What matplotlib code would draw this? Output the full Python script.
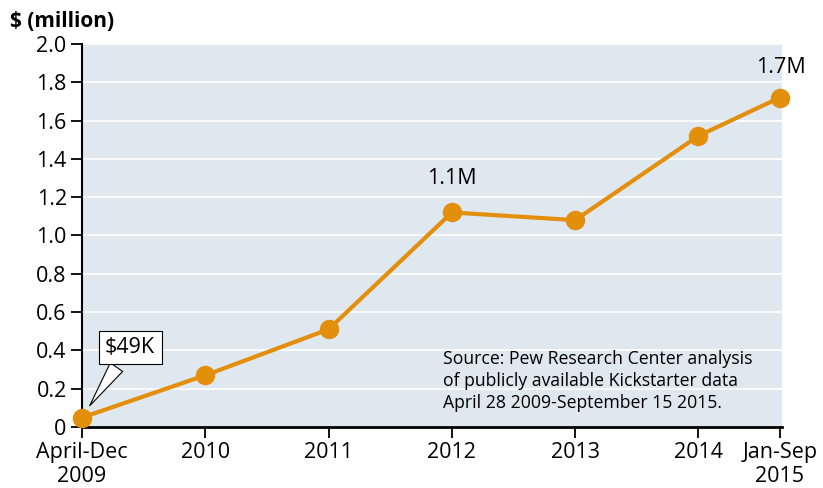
import matplotlib.pyplot as plt
from matplotlib.ticker import FixedLocator

plt.rcParams['font.family'] = ['Open Sans', 'DejaVu Sans']

# Data
periods = ['April-Dec\n2009', '2010', '2011', '2012', '2013', '2014', 'Jan-Sep\n2015']
x_pos = [0, 1, 2, 3, 4, 5, 5.66]
amount = [0.049, 0.27, 0.51, 1.12, 1.08, 1.52, 1.72]
y_ticks = [0, 0.2, 0.4, 0.6, 0.8, 1.0, 1.2, 1.4, 1.6, 1.8, 2.0]
y_ticklabels = ['0', '0.2', '0.4', '0.6', '0.8', '1.0', '1.2', '1.4', '1.6', '1.8', '2.0']

orange = '#e38f0c'

fig = plt.figure(figsize=(8.23, 4.88), dpi=100)
ax = fig.add_axes([0.0996, 0.125, 0.851, 0.785])
ax.set_facecolor('#dfe7ef')

ax.plot(x_pos, amount, color=orange, lw=3, marker='o', ms=13, zorder=3, clip_on=False)

ax.set_xlim(0, 5.68)
ax.set_ylim(0, 2.0)
ax.yaxis.set_major_locator(FixedLocator(y_ticks))
ax.set_yticklabels(y_ticklabels)
ax.set_xticks(x_pos)
ax.set_xticklabels(periods, linespacing=1.2)
ax.grid(axis='y', color='white', lw=1.2)
ax.set_axisbelow(True)

for side in ['top', 'right']:
    ax.spines[side].set_visible(False)
ax.spines['left'].set_linewidth(1.5)
ax.spines['bottom'].set_linewidth(2)
ax.tick_params(axis='both', labelsize=15.5, length=8, width=1.3, colors='black')
ax.tick_params(axis='y', pad=3)
ax.tick_params(axis='x', pad=3)

fig.text(0.012, 0.956, '$ (million)', fontsize=15, fontweight='bold', va='center')

ax.annotate('1.1M', (x_pos[3], amount[3]), xytext=(0, 17), textcoords='offset points',
            ha='center', va='bottom', fontsize=15.5)
ax.annotate('1.7M', (x_pos[6], amount[6]), xytext=(1, 14), textcoords='offset points',
            ha='center', va='bottom', fontsize=15.5, annotation_clip=False)
ax.annotate('$49K', (x_pos[0] + 0.05, amount[0] + 0.05), xytext=(0.39, 0.415),
            ha='center', va='center', fontsize=15.5,
            bbox=dict(boxstyle='square,pad=0.3', fc='white', ec='black', lw=0.8),
            arrowprops=dict(arrowstyle='wedge,tail_width=0.7', fc='white', ec='black', lw=0.8))

ax.text(0.516, 0.12, 'Source: Pew Research Center analysis\nof publicly available Kickstarter data\nApril 28 2009-September 15 2015.',
        transform=ax.transAxes, fontsize=12.7, va='center', ha='left', linespacing=1.3)

fig.savefig('out.png', dpi=100)
